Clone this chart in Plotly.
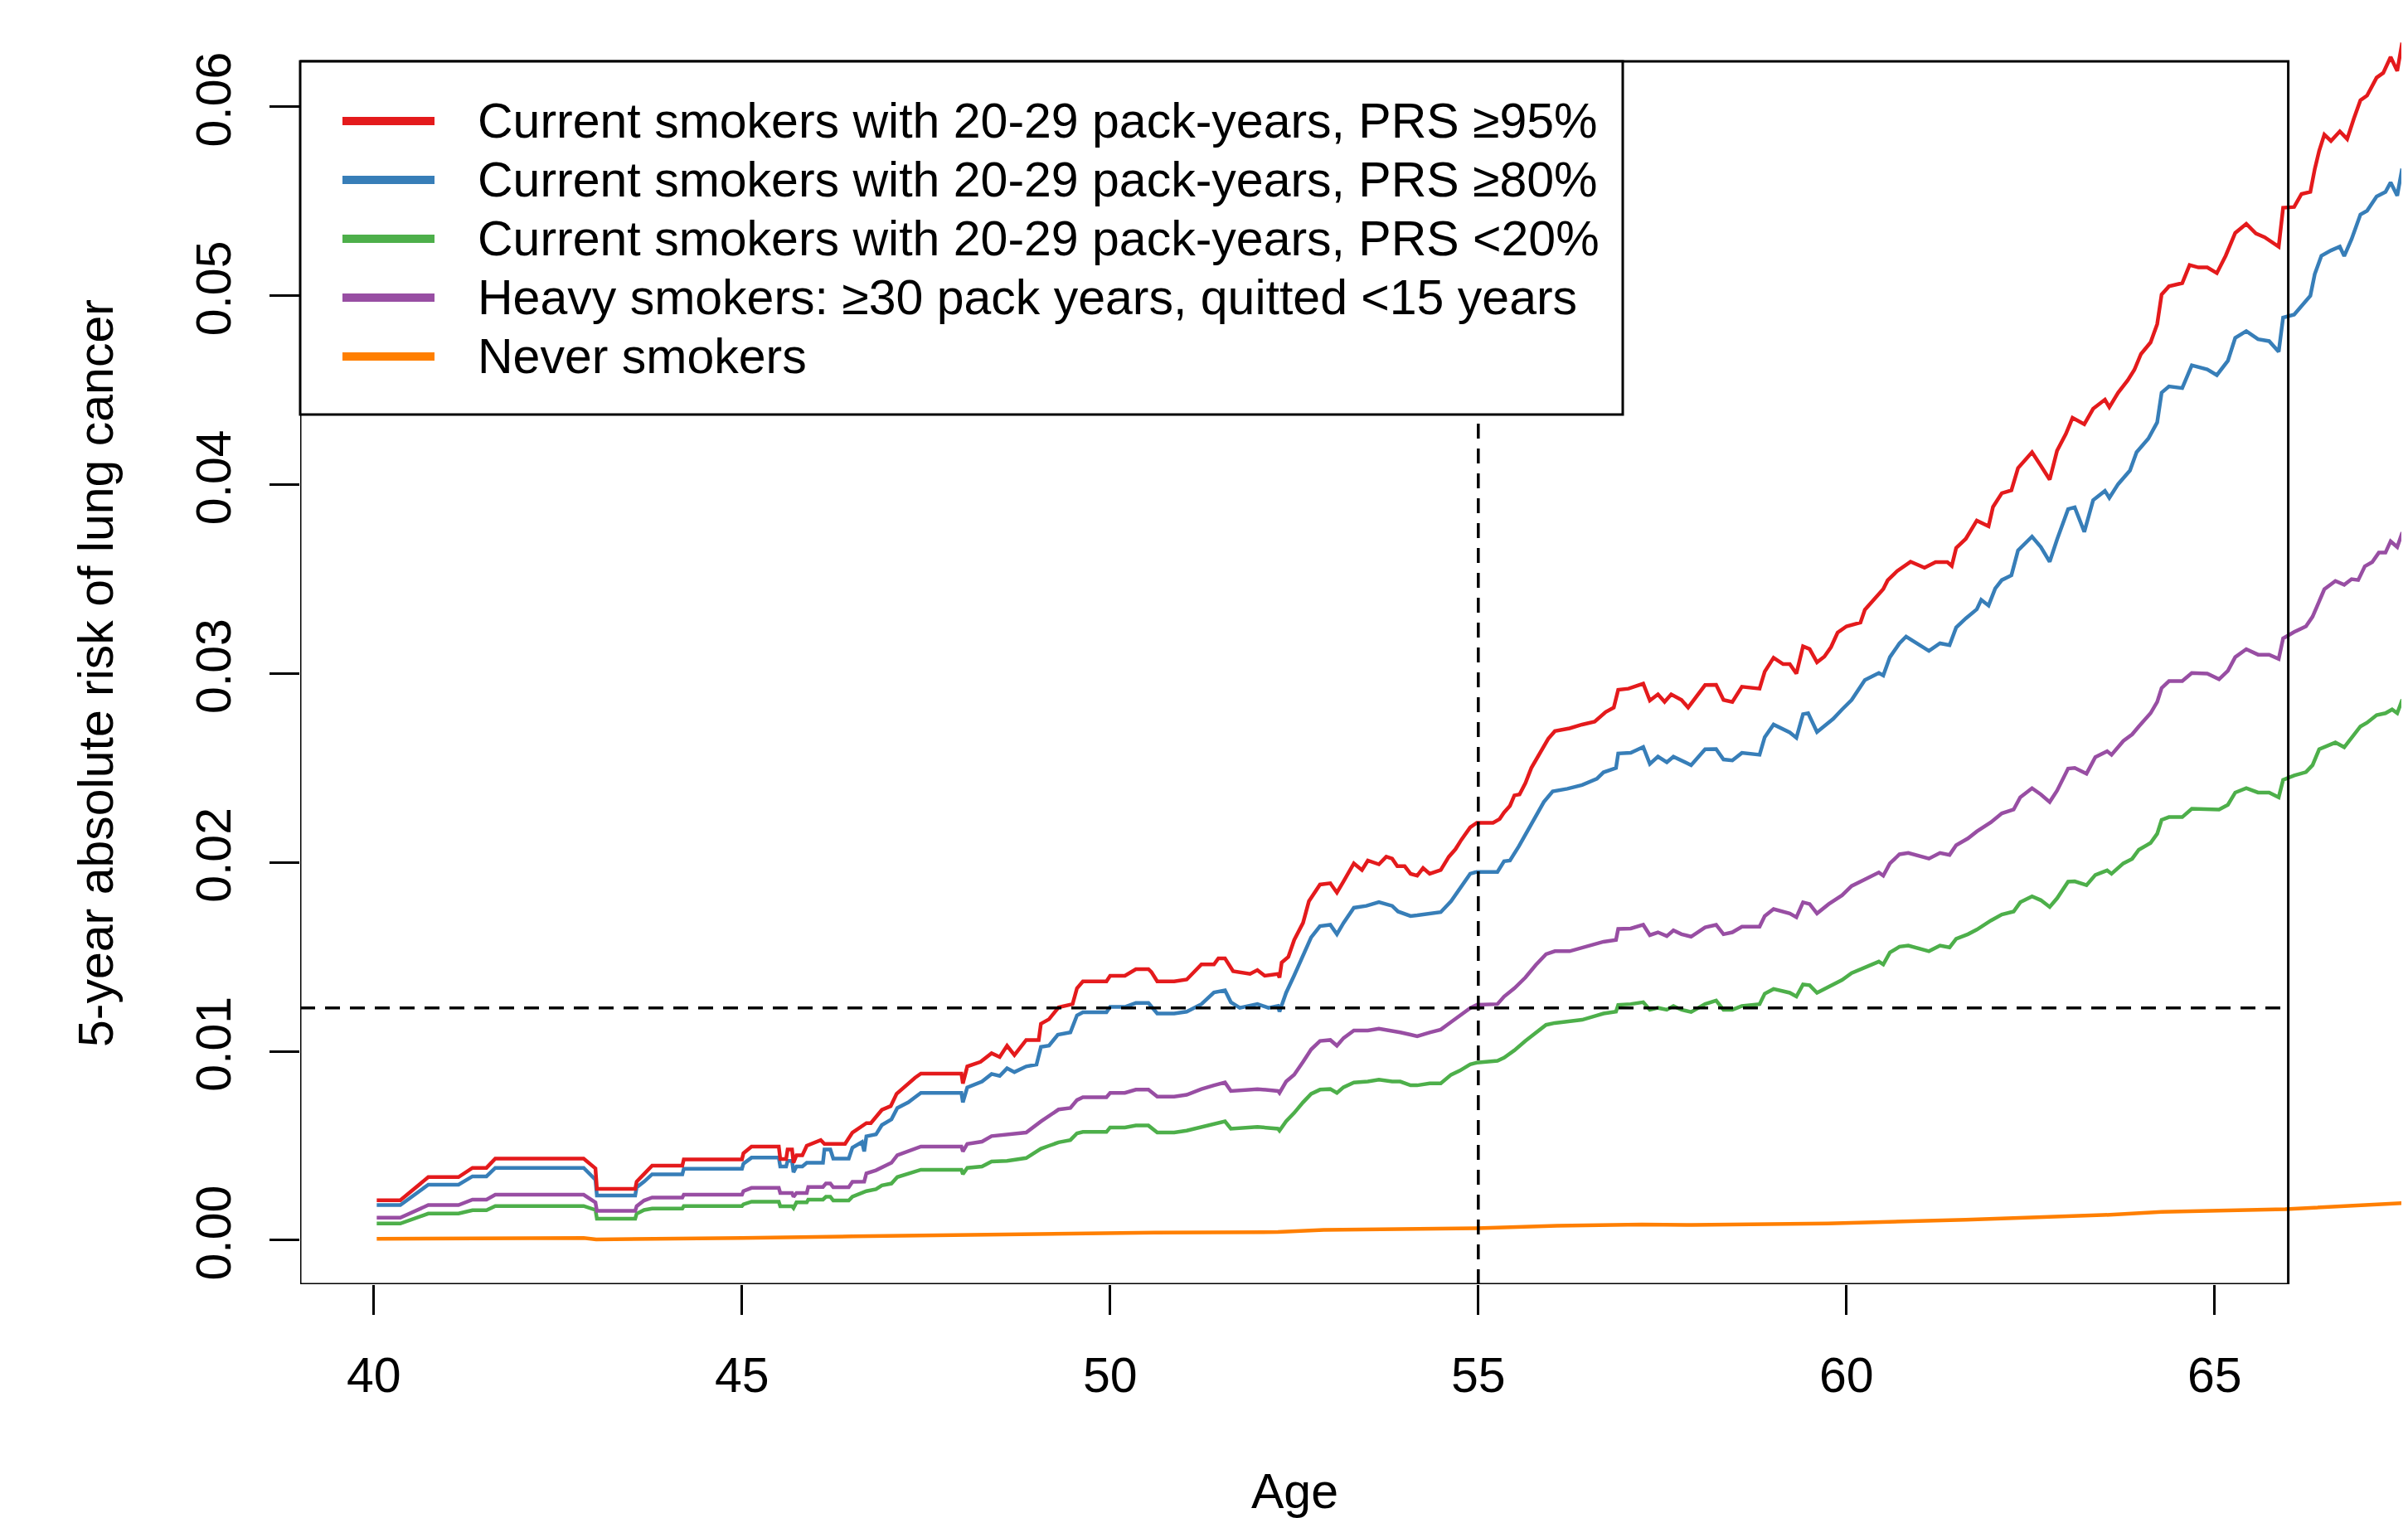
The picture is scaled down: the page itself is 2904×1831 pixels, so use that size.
import plotly.graph_objects as go

# ---------------- data ----------------
red_age = [40.04, 40.36, 40.74, 41.15, 41.34, 41.53, 41.65, 42.85, 43.01, 43.03, 43.55, 43.57, 43.67, 43.78,
           44.19, 44.21, 45.0, 45.02, 45.13, 45.5, 45.52, 45.6, 45.62, 45.68, 45.7, 45.74, 45.82, 45.88, 46.07,
           46.12, 46.4, 46.5, 46.69, 46.75, 46.9, 47.02, 47.1, 47.17, 47.25, 47.35, 47.43, 47.98, 48.0, 48.06,
           48.24, 48.39, 48.5, 48.6, 48.7, 48.86, 49.03, 49.06, 49.17, 49.3, 49.49, 49.55, 49.63, 49.95, 50.0,
           50.2, 50.35, 50.52, 50.56, 50.64, 50.87, 51.04, 51.24, 51.41, 51.47, 51.56, 51.67, 51.9, 52.0, 52.1,
           52.28, 52.3, 52.33, 52.42, 52.5, 52.62, 52.7, 52.85, 52.99, 53.08, 53.17, 53.31, 53.42, 53.5, 53.65,
           53.75, 53.83, 53.9, 54.0, 54.08, 54.17, 54.25, 54.34, 54.49, 54.6, 54.69, 54.77, 54.89, 54.98, 55.2,
           55.29, 55.35, 55.43, 55.49, 55.56, 55.64, 55.72, 55.84, 55.95, 56.04, 56.24, 56.41, 56.58, 56.73,
           56.84, 56.9, 57.04, 57.24, 57.33, 57.44, 57.53, 57.62, 57.76, 57.85, 58.08, 58.23, 58.33, 58.45,
           58.58, 58.82, 58.89, 59.01, 59.14, 59.23, 59.32, 59.41, 59.5, 59.6, 59.7, 59.79, 59.88, 60.0, 60.19,
           60.25, 60.37, 60.5, 60.56, 60.69, 60.87, 61.06, 61.21, 61.37, 61.43, 61.49, 61.62, 61.77, 61.93,
           61.99, 62.11, 62.24, 62.33, 62.52, 62.64, 62.76, 62.86, 62.98, 63.07, 63.23, 63.35, 63.51, 63.57,
           63.69, 63.82, 63.91, 64.0, 64.13, 64.22, 64.28, 64.38, 64.56, 64.66, 64.78, 64.9, 65.03, 65.15,
           65.28, 65.43, 65.56, 65.68, 65.87, 65.93, 66.08, 66.18, 66.3, 66.36, 66.42, 66.49, 66.58, 66.7,
           66.8, 66.89, 66.98, 67.07, 67.2, 67.29, 67.39, 67.48, 67.54, 67.62]
red_risk = [0.00211, 0.00211, 0.00334, 0.00334, 0.00383, 0.00383, 0.00432, 0.00432, 0.0038, 0.00272, 0.00272,
            0.0031, 0.0035, 0.00395, 0.00395, 0.00428, 0.00428, 0.0046, 0.00496, 0.00496, 0.0043, 0.0043,
            0.0048, 0.0048, 0.0041, 0.0045, 0.0045, 0.005, 0.0053, 0.0051, 0.0051, 0.0057, 0.0062, 0.0062,
            0.0069, 0.0071, 0.00775, 0.008, 0.0083, 0.0086, 0.00882, 0.00882, 0.0083, 0.0092, 0.00944, 0.0099,
            0.0097, 0.0103, 0.0098, 0.0106, 0.0106, 0.01146, 0.0117, 0.01233, 0.0125, 0.01334, 0.0137, 0.0137,
            0.014, 0.014, 0.01435, 0.01435, 0.0142, 0.0137, 0.0137, 0.0138, 0.0146, 0.0146, 0.01492, 0.01492,
            0.01424, 0.0141, 0.0143, 0.014, 0.0141, 0.0139, 0.0147, 0.015, 0.0159, 0.0168, 0.01795, 0.01883,
            0.0189, 0.0184, 0.019, 0.01995, 0.0196, 0.0201, 0.0199, 0.0203, 0.0202, 0.0198, 0.0198, 0.0194,
            0.0193, 0.0197, 0.0194, 0.0196, 0.0203, 0.0207, 0.0212, 0.02186, 0.0221, 0.0221, 0.0223, 0.02265,
            0.023, 0.02355, 0.0236, 0.0242, 0.025, 0.02577, 0.02655, 0.02695, 0.0271, 0.0273, 0.02745, 0.02796,
            0.0282, 0.02914, 0.0292, 0.02947, 0.02857, 0.0289, 0.0285, 0.0289, 0.0286, 0.0282, 0.02939, 0.0294,
            0.0286, 0.0285, 0.0293, 0.0292, 0.0301, 0.03084, 0.0305, 0.0305, 0.03, 0.03144, 0.0313, 0.0306,
            0.0309, 0.0314, 0.03217, 0.0325, 0.0327, 0.03338, 0.0339, 0.03447, 0.03494, 0.03543, 0.03592,
            0.0356, 0.0359, 0.0359, 0.0357, 0.03665, 0.03713, 0.0381, 0.0378, 0.03882, 0.03955, 0.0397,
            0.04088, 0.04172, 0.041, 0.04027, 0.0418, 0.04269, 0.04354, 0.0432, 0.04402, 0.0445, 0.0441,
            0.04487, 0.04553, 0.04608, 0.04692, 0.04753, 0.0485, 0.05007, 0.0505, 0.05067, 0.05163, 0.0515,
            0.0515, 0.0512, 0.05212, 0.05333, 0.05381, 0.0533, 0.0531, 0.0526, 0.05466, 0.0547, 0.05539, 0.0555,
            0.05671, 0.05768, 0.05853, 0.0582, 0.0587, 0.0583, 0.05937, 0.06035, 0.0606, 0.06155, 0.0618,
            0.06264, 0.0619, 0.06325, 0.063]

blue_age = [40.04, 40.36, 40.74, 41.15, 41.34, 41.53, 41.65, 42.85, 43.01, 43.03, 43.55, 43.57, 43.67, 43.78,
            44.19, 44.21, 45.0, 45.02, 45.13, 45.5, 45.52, 45.6, 45.62, 45.68, 45.7, 45.74, 45.82, 45.88, 46.1,
            46.12, 46.2, 46.24, 46.45, 46.5, 46.63, 46.66, 46.69, 46.82, 46.9, 47.03, 47.11, 47.26, 47.35,
            47.43, 47.98, 48.0, 48.06, 48.26, 48.39, 48.5, 48.6, 48.7, 48.86, 49.0, 49.06, 49.17, 49.29, 49.46,
            49.55, 49.63, 49.95, 50.0, 50.2, 50.35, 50.52, 50.64, 50.87, 51.04, 51.24, 51.41, 51.56, 51.64,
            51.76, 52.0, 52.15, 52.28, 52.3, 52.39, 52.5, 52.62, 52.73, 52.85, 52.99, 53.08, 53.17, 53.31,
            53.48, 53.65, 53.83, 53.91, 54.08, 54.17, 54.34, 54.49, 54.63, 54.75, 54.89, 54.98, 55.26, 55.35,
            55.43, 55.55, 55.66, 55.78, 55.89, 56.01, 56.21, 56.41, 56.61, 56.7, 56.87, 56.9, 57.07, 57.24,
            57.33, 57.44, 57.56, 57.65, 57.76, 57.89, 58.08, 58.23, 58.33, 58.45, 58.58, 58.82, 58.89, 59.01,
            59.23, 59.32, 59.41, 59.48, 59.6, 59.7, 59.82, 59.94, 60.07, 60.25, 60.44, 60.5, 60.59, 60.72,
            60.81, 61.12, 61.27, 61.4, 61.49, 61.62, 61.77, 61.83, 61.93, 62.02, 62.11, 62.24, 62.33, 62.52,
            62.64, 62.76, 62.86, 63.01, 63.1, 63.23, 63.35, 63.51, 63.57, 63.69, 63.85, 63.94, 64.1, 64.22,
            64.28, 64.38, 64.56, 64.69, 64.9, 65.03, 65.18, 65.28, 65.43, 65.59, 65.74, 65.87, 65.93, 66.08,
            66.21, 66.3, 66.36, 66.45, 66.58, 66.7, 66.76, 66.86, 66.98, 67.07, 67.2, 67.32, 67.39, 67.48,
            67.54, 67.62]
blue_risk = [0.00186, 0.00186, 0.00294, 0.00294, 0.00338, 0.00338, 0.00383, 0.00383, 0.0032, 0.00237, 0.00237,
             0.0028, 0.0031, 0.00349, 0.00349, 0.00378, 0.00378, 0.00405, 0.00437, 0.00437, 0.0039, 0.0039,
             0.0042, 0.0042, 0.0036, 0.0039, 0.0039, 0.0041, 0.0041, 0.0048, 0.0048, 0.00432, 0.00432, 0.0049,
             0.0052, 0.0047, 0.0055, 0.0056, 0.0061, 0.0064, 0.007, 0.0073, 0.00757, 0.0078, 0.0078, 0.0073,
             0.00809, 0.0084, 0.0088, 0.0087, 0.0091, 0.0089, 0.0092, 0.0093, 0.01023, 0.0103, 0.01088, 0.011,
             0.0119, 0.01207, 0.01207, 0.01235, 0.01235, 0.01256, 0.01256, 0.012, 0.012, 0.0121, 0.0125,
             0.01312, 0.01323, 0.0126, 0.0123, 0.0125, 0.0123, 0.0124, 0.0121, 0.0131, 0.01402, 0.01502,
             0.01603, 0.01663, 0.0167, 0.0162, 0.0168, 0.0176, 0.0177, 0.0179, 0.0177, 0.0174, 0.01716, 0.0172,
             0.0173, 0.01737, 0.01795, 0.01861, 0.0194, 0.0195, 0.0195, 0.02006, 0.0201, 0.02085, 0.02164,
             0.02242, 0.0232, 0.02376, 0.0239, 0.0241, 0.02443, 0.02477, 0.025, 0.02577, 0.0258, 0.02611,
             0.02522, 0.0256, 0.0253, 0.0256, 0.0254, 0.02515, 0.02599, 0.026, 0.02545, 0.0254, 0.0258, 0.0257,
             0.02663, 0.0273, 0.02688, 0.0266, 0.02785, 0.0279, 0.0269, 0.0272, 0.0276, 0.0281, 0.0286,
             0.02966, 0.03003, 0.0299, 0.03087, 0.0316, 0.03196, 0.0312, 0.0316, 0.0315, 0.03244, 0.03292,
             0.0334, 0.0339, 0.0336, 0.0345, 0.03495, 0.0352, 0.03652, 0.03725, 0.0367, 0.03592, 0.0371,
             0.0387, 0.0388, 0.0375, 0.03918, 0.03967, 0.0393, 0.04003, 0.04075, 0.04172, 0.04244, 0.0433,
             0.04487, 0.0452, 0.04511, 0.04632, 0.0461, 0.0458, 0.04656, 0.04777, 0.04813, 0.0477, 0.0476,
             0.04704, 0.04885, 0.049, 0.04958, 0.05, 0.05115, 0.05212, 0.0524, 0.0526, 0.0521, 0.053, 0.0543,
             0.0545, 0.05526, 0.0555, 0.056, 0.0553, 0.0566, 0.0564]

green_age = [40.04, 40.36, 40.74, 41.15, 41.34, 41.53, 41.65, 42.85, 43.01, 43.03, 43.55, 43.57, 43.67, 43.78,
             44.19, 44.21, 45.0, 45.02, 45.13, 45.5, 45.52, 45.68, 45.7, 45.74, 45.88, 45.9, 46.1, 46.14, 46.2,
             46.24, 46.45, 46.5, 46.69, 46.82, 46.9, 47.03, 47.11, 47.26, 47.35, 47.43, 47.98, 48.0, 48.06,
             48.26, 48.39, 48.6, 48.86, 49.06, 49.17, 49.3, 49.46, 49.55, 49.63, 49.95, 50.0, 50.2, 50.35,
             50.52, 50.64, 50.87, 51.04, 51.24, 51.41, 51.56, 51.64, 52.0, 52.28, 52.3, 52.39, 52.5, 52.62,
             52.73, 52.85, 52.99, 53.08, 53.17, 53.31, 53.5, 53.65, 53.83, 53.94, 54.08, 54.17, 54.34, 54.49,
             54.63, 54.75, 54.89, 54.98, 55.26, 55.35, 55.49, 55.64, 55.78, 55.92, 56.04, 56.24, 56.41, 56.61,
             56.7, 56.87, 56.9, 57.07, 57.24, 57.33, 57.44, 57.56, 57.65, 57.76, 57.89, 58.08, 58.23, 58.33,
             58.45, 58.58, 58.82, 58.89, 59.01, 59.23, 59.32, 59.41, 59.5, 59.6, 59.76, 59.94, 60.07, 60.25,
             60.44, 60.5, 60.59, 60.72, 60.84, 61.12, 61.27, 61.4, 61.49, 61.65, 61.77, 61.96, 62.11, 62.27,
             62.36, 62.52, 62.64, 62.76, 62.86, 63.01, 63.1, 63.26, 63.38, 63.54, 63.6, 63.76, 63.88, 63.97,
             64.13, 64.22, 64.28, 64.38, 64.56, 64.69, 64.9, 65.06, 65.18, 65.28, 65.43, 65.59, 65.74, 65.87,
             65.93, 66.08, 66.24, 66.33, 66.42, 66.49, 66.64, 66.76, 66.86, 66.98, 67.07, 67.2, 67.32, 67.41,
             67.48, 67.54, 67.62]
green_risk = [0.00088, 0.00088, 0.00141, 0.00141, 0.00159, 0.00159, 0.00181, 0.00181, 0.0016, 0.00114, 0.00114,
              0.0014, 0.0016, 0.00167, 0.00167, 0.00181, 0.00181, 0.0019, 0.00204, 0.00204, 0.0018, 0.0018,
              0.0017, 0.002, 0.002, 0.00215, 0.00215, 0.0023, 0.0023, 0.0021, 0.0021, 0.0023, 0.0026, 0.0027,
              0.0029, 0.003, 0.00334, 0.0035, 0.0036, 0.00373, 0.00373, 0.0035, 0.00383, 0.0039, 0.00417,
              0.0042, 0.00435, 0.00484, 0.005, 0.00518, 0.0053, 0.00566, 0.00573, 0.00573, 0.00597, 0.00597,
              0.00607, 0.00607, 0.0057, 0.0057, 0.0058, 0.006, 0.00619, 0.00629, 0.0059, 0.006, 0.0059, 0.0058,
              0.0063, 0.00674, 0.0073, 0.00775, 0.00797, 0.008, 0.0078, 0.0081, 0.00835, 0.0084, 0.0085, 0.0084,
              0.0084, 0.0082, 0.0082, 0.0083, 0.0083, 0.00876, 0.00898, 0.00931, 0.0094, 0.0095, 0.00966,
              0.01005, 0.01055, 0.011, 0.0114, 0.0115, 0.0116, 0.01167, 0.0119, 0.012, 0.0121, 0.01246, 0.0125,
              0.0126, 0.0122, 0.0123, 0.0122, 0.0124, 0.0122, 0.01208, 0.0125, 0.01269, 0.0122, 0.0122, 0.0124,
              0.0125, 0.01305, 0.0133, 0.0131, 0.0129, 0.01354, 0.0135, 0.0131, 0.0134, 0.01378, 0.01414,
              0.01444, 0.01475, 0.0146, 0.01523, 0.01554, 0.0156, 0.0153, 0.0156, 0.0155, 0.01596, 0.0162,
              0.01644, 0.01692, 0.01724, 0.0174, 0.01789, 0.0182, 0.018, 0.01764, 0.0181, 0.01898, 0.019,
              0.0188, 0.01934, 0.01958, 0.0194, 0.01995, 0.02019, 0.02067, 0.02103, 0.02152, 0.02225, 0.0224,
              0.0224, 0.02284, 0.0228, 0.0228, 0.02305, 0.0237, 0.02393, 0.0237, 0.0237, 0.02345, 0.02437,
              0.0246, 0.02478, 0.02515, 0.02599, 0.0261, 0.02635, 0.0261, 0.0266, 0.0272, 0.0274, 0.0278,
              0.0279, 0.0281, 0.0279, 0.02853, 0.0284]

purple_age = [40.04, 40.36, 40.74, 41.15, 41.34, 41.53, 41.65, 42.85, 43.01, 43.03, 43.55, 43.57, 43.67, 43.78,
              44.19, 44.21, 45.0, 45.02, 45.13, 45.5, 45.52, 45.68, 45.7, 45.74, 45.88, 45.9, 46.1, 46.14, 46.2,
              46.24, 46.45, 46.5, 46.66, 46.69, 46.82, 46.9, 47.03, 47.11, 47.26, 47.35, 47.43, 47.98, 48.0,
              48.06, 48.26, 48.39, 48.6, 48.86, 49.06, 49.17, 49.3, 49.46, 49.55, 49.63, 49.95, 50.0, 50.2,
              50.35, 50.52, 50.64, 50.87, 51.04, 51.24, 51.41, 51.56, 51.64, 52.0, 52.28, 52.3, 52.39, 52.5,
              52.62, 52.73, 52.85, 52.99, 53.08, 53.17, 53.31, 53.5, 53.65, 53.83, 53.94, 54.08, 54.17, 54.34,
              54.49, 54.63, 54.75, 54.89, 54.98, 55.26, 55.35, 55.49, 55.64, 55.78, 55.92, 56.04, 56.24, 56.41,
              56.61, 56.7, 56.87, 56.9, 57.07, 57.24, 57.33, 57.44, 57.56, 57.65, 57.76, 57.89, 58.08, 58.23,
              58.33, 58.45, 58.58, 58.82, 58.89, 59.01, 59.23, 59.32, 59.41, 59.5, 59.6, 59.76, 59.94, 60.07,
              60.25, 60.44, 60.5, 60.59, 60.72, 60.84, 61.12, 61.27, 61.4, 61.49, 61.65, 61.77, 61.96, 62.11,
              62.27, 62.36, 62.52, 62.64, 62.76, 62.86, 63.01, 63.1, 63.26, 63.38, 63.54, 63.6, 63.76, 63.88,
              63.97, 64.13, 64.22, 64.28, 64.38, 64.56, 64.69, 64.9, 65.06, 65.18, 65.28, 65.43, 65.59, 65.74,
              65.87, 65.93, 66.08, 66.24, 66.33, 66.42, 66.49, 66.64, 66.76, 66.86, 66.95, 67.04, 67.14, 67.23,
              67.32, 67.39, 67.48, 67.54, 67.62]
purple_risk = [0.00119, 0.00119, 0.00186, 0.00186, 0.00215, 0.00215, 0.00241, 0.00241, 0.002, 0.00155, 0.00155,
               0.0018, 0.0021, 0.00226, 0.00226, 0.00241, 0.00241, 0.0026, 0.00277, 0.00277, 0.0025, 0.0025,
               0.0023, 0.0025, 0.0025, 0.00282, 0.00282, 0.003, 0.003, 0.0028, 0.0028, 0.00309, 0.0031, 0.00354,
               0.0037, 0.00387, 0.0041, 0.0045, 0.0047, 0.00484, 0.00496, 0.00496, 0.0047, 0.0051, 0.00522,
               0.00551, 0.0056, 0.0057, 0.00629, 0.0066, 0.00692, 0.007, 0.00742, 0.00757, 0.00757, 0.0078,
               0.0078, 0.00797, 0.00797, 0.0076, 0.0076, 0.0077, 0.008, 0.0082, 0.00835, 0.0079, 0.008, 0.0079,
               0.0078, 0.0084, 0.00876, 0.00944, 0.0101, 0.01055, 0.0106, 0.0103, 0.0107, 0.0111, 0.0111, 0.0112,
               0.0111, 0.011, 0.01088, 0.0108, 0.011, 0.01115, 0.01155, 0.0119, 0.01229, 0.01246, 0.0125, 0.0129,
               0.01334, 0.01391, 0.01457, 0.01514, 0.0153, 0.0153, 0.01547, 0.01567, 0.0158, 0.0159, 0.01648,
               0.0165, 0.0167, 0.01615, 0.0163, 0.0161, 0.0164, 0.0162, 0.01607, 0.01656, 0.0167, 0.0162, 0.0163,
               0.0166, 0.0166, 0.01716, 0.01753, 0.0173, 0.0171, 0.01789, 0.0178, 0.0173, 0.0178, 0.01826,
               0.01875, 0.0191, 0.01947, 0.0193, 0.01995, 0.02043, 0.0205, 0.0202, 0.0205, 0.0204, 0.02091,
               0.02127, 0.02164, 0.02212, 0.0226, 0.0228, 0.02345, 0.02393, 0.0236, 0.0232, 0.0238, 0.02497,
               0.025, 0.0247, 0.02558, 0.02589, 0.0257, 0.02643, 0.02678, 0.0272, 0.0279, 0.0285, 0.02923, 0.0296,
               0.0296, 0.03003, 0.03, 0.0297, 0.03015, 0.03087, 0.03129, 0.031, 0.031, 0.03077, 0.03186, 0.0322,
               0.0325, 0.03301, 0.03386, 0.03446, 0.0349, 0.0347, 0.035, 0.03495, 0.03568, 0.0359, 0.0364, 0.0364,
               0.037, 0.0367, 0.03737, 0.0372]

orange_age = [40.04, 42.85, 43.02, 43.55, 45.0, 46.5, 47.35, 48.9, 50.6, 52.28, 52.9, 54.98, 56.07, 57.22,
              57.9, 59.75, 61.62, 63.48, 64.28, 65.96, 67.62]
orange_risk = [0.00007, 0.00012, 0.00004, 0.00005, 0.00012, 0.0002, 0.00025, 0.00032, 0.0004, 0.00043, 0.00054,
               0.00063, 0.00076, 0.00083, 0.00081, 0.00089, 0.00108, 0.00133, 0.0015, 0.00164, 0.00198]

series_names = [
    "Current smokers with 20-29 pack-years, PRS \u226595%",
    "Current smokers with 20-29 pack-years, PRS \u226580%",
    "Current smokers with 20-29 pack-years, PRS <20%",
    "Heavy smokers: \u226530 pack years, quitted <15 years",
    "Never smokers",
]
series_colors = ["#E41A1C", "#377EB8", "#4DAF4A", "#984EA3", "#FF7F00"]

x_ticks = [40, 45, 50, 55, 60, 65]
y_ticks = [0.00, 0.01, 0.02, 0.03, 0.04, 0.05, 0.06]
ref_age = 55
ref_risk = 0.0123

# ---------------- layout geometry (screen pixels; page body adds an 8px offset) ----------------
SCREEN_W, SCREEN_H = 2904, 1831
OFF = 8
W, H = SCREEN_W - OFF, SCREEN_H - OFF
BOX_L, BOX_B = 362, 1549          # screen px of plot-box left / bottom
ML = BOX_L - OFF
plot_h = BOX_B - OFF              # plot area from figure top to box bottom
MB = H - plot_h
PX_PER_YEAR = 88.8
X_MIN, X_BOX_MAX = 39.0, 66.0
x_max = X_MIN + (SCREEN_W - BOX_L) / PX_PER_YEAR
Y_MIN, Y_BOX_MAX = -0.00233, 0.06241
PX_PER_UNIT = 22783.0
y_max = Y_MIN + plot_h / PX_PER_UNIT

FONT = "Liberation Sans, Arial, Helvetica, sans-serif"
FS = 59

def px2paper_x(px):
    return (px - BOX_L) / (SCREEN_W - BOX_L)

def px2paper_y(py):
    return 1 - (py - OFF) / plot_h

fig = go.Figure()
data = [(red_age, red_risk), (blue_age, blue_risk), (green_age, green_risk),
        (purple_age, purple_risk), (orange_age, orange_risk)]
draw_order = [4, 2, 3, 1, 0]
for i in draw_order:
    a, r = data[i]
    fig.add_trace(go.Scatter(x=a, y=r, mode="lines", name=series_names[i],
                             line=dict(color=series_colors[i], width=4.5),
                             showlegend=False, hoverinfo="skip"))

shapes = []
dash = "18px,12px"
shapes.append(dict(type="line", xref="x", yref="y", x0=ref_age, x1=ref_age, y0=Y_MIN, y1=Y_BOX_MAX,
                   line=dict(color="black", width=3.5, dash=dash), layer="above"))
shapes.append(dict(type="line", xref="x", yref="y", x0=X_MIN, x1=X_BOX_MAX, y0=ref_risk, y1=ref_risk,
                   line=dict(color="black", width=3.5, dash=dash), layer="above"))
shapes.append(dict(type="rect", xref="x", yref="y", x0=X_MIN, x1=X_BOX_MAX, y0=Y_MIN, y1=Y_BOX_MAX,
                   line=dict(color="black", width=3), fillcolor="rgba(0,0,0,0)", layer="above"))
# legend box
shapes.append(dict(type="rect", xref="paper", yref="paper", x0=px2paper_x(362), x1=px2paper_x(1957),
                   y0=px2paper_y(500), y1=px2paper_y(74),
                   line=dict(color="black", width=3), fillcolor="white", layer="above"))
annotations = []
row_y = [146, 217, 288, 359, 430]
for i, name in enumerate(series_names):
    shapes.append(dict(type="line", xref="paper", yref="paper", x0=px2paper_x(413), x1=px2paper_x(524),
                       y0=px2paper_y(row_y[i]), y1=px2paper_y(row_y[i]),
                       line=dict(color=series_colors[i], width=10), layer="above"))
    annotations.append(dict(text=name, xref="paper", yref="paper", x=px2paper_x(574), y=px2paper_y(row_y[i]),
                            xanchor="left", yanchor="middle", showarrow=False,
                            font=dict(family=FONT, size=FS, color="black")))

annotations.append(dict(text="Age", xref="paper", yref="paper", x=px2paper_x(1561), y=px2paper_y(1799),
                        xanchor="center", yanchor="middle", showarrow=False,
                        font=dict(family=FONT, size=FS, color="black")))
annotations.append(dict(text="5-year absolute risk of lung cancer", xref="paper", yref="paper",
                        x=px2paper_x(116), y=px2paper_y(812), textangle=-90,
                        xanchor="center", yanchor="middle", showarrow=False,
                        font=dict(family=FONT, size=FS, color="black")))

fig.update_layout(
    width=W, height=H,
    margin=dict(l=ML, r=0, t=0, b=MB, pad=0),
    paper_bgcolor="white", plot_bgcolor="white",
    font=dict(family=FONT, size=FS, color="black"),
    shapes=shapes, annotations=annotations,
    showlegend=False,
)
fig.update_xaxes(range=[X_MIN, x_max], tickvals=x_ticks, ticktext=[str(v) for v in x_ticks],
                 ticks="outside", ticklen=36, tickwidth=3, tickcolor="black",
                 showgrid=False, zeroline=False, showline=False,
                 tickfont=dict(family=FONT, size=FS, color="black"), ticklabelstandoff=22)
fig.update_yaxes(range=[Y_MIN, y_max], tickvals=y_ticks, ticktext=["%.2f" % v for v in y_ticks],
                 ticks="outside", ticklen=36, tickwidth=3, tickcolor="black", tickangle=-90,
                 showgrid=False, zeroline=False, showline=False,
                 tickfont=dict(family=FONT, size=FS, color="black"), ticklabelstandoff=23)

fig.write_html("out.html")
